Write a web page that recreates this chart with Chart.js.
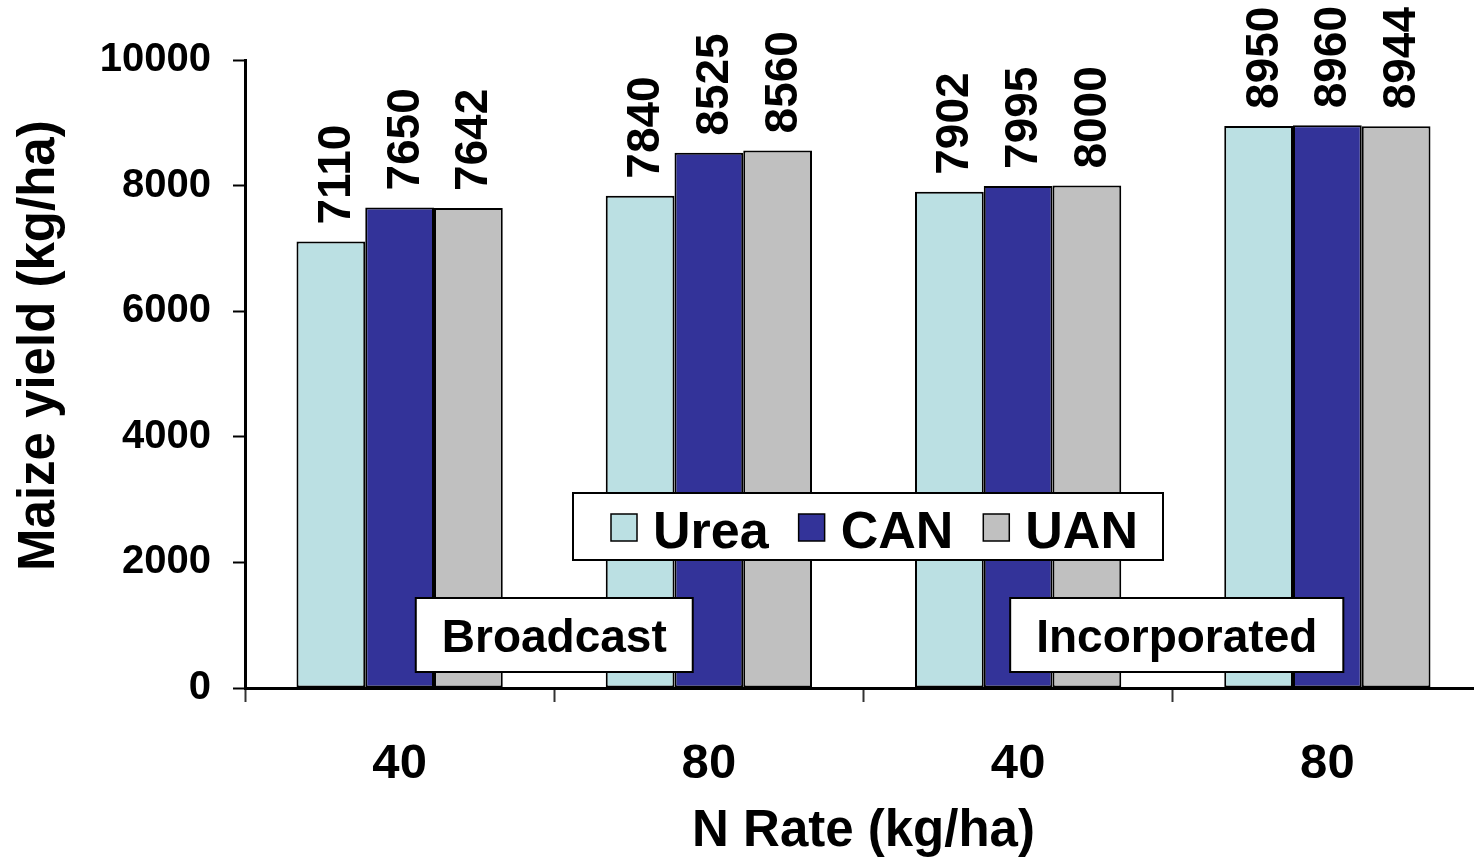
<!DOCTYPE html>
<html lang="en">
<head>
    <meta charset="UTF-8">
    <title>Maize yield</title>
    <script src="https://cdn.jsdelivr.net/npm/chart.js"></script>
    <style>
        body{margin:0; overflow:hidden; background:#fff;}
        #myChart{display:block;}
    </style>
</head>
<body>
    <canvas id="myChart" width="1490" height="860"></canvas>
    <script>
        // data
        const categories = ['40', '80', '40', '80'];
        const seriesNames = ['Urea', 'CAN', 'UAN'];
        const urea = [7110, 7840, 7902, 8950];
        const can = [7650, 8525, 7995, 8960];
        const uan = [7642, 8560, 8000, 8944];
        const yTicks = [0, 2000, 4000, 6000, 8000, 10000];
        const groupLabels = ['Broadcast', 'Incorporated'];

        const FONT = "'Liberation Sans', Arial, sans-serif";
        const colors = ['#BBE0E3', '#333399', '#C0C0C0'];

        // values written vertically above each bar
        const barLabels = {
          id: 'barLabels',
          afterDatasetsDraw(chart) {
            const c = chart.ctx;
            c.save();
            c.font = 'bold 46px ' + FONT;
            c.fillStyle = '#000';
            c.textAlign = 'left';
            c.textBaseline = 'alphabetic';
            chart.data.datasets.forEach((ds, i) => {
              chart.getDatasetMeta(i).data.forEach((el, j) => {
                c.save();
                c.translate(el.x, el.y - 17);
                c.rotate(-Math.PI / 2);
                c.fillText(String(ds.data[j]), 0, 19);
                c.restore();
              });
            });
            c.restore();
          }
        };

        // legend box + Broadcast / Incorporated boxes
        const boxes = {
          id: 'boxes',
          afterDatasetsDraw(chart) {
            const c = chart.ctx;
            const xs = chart.scales.x;
            c.save();
            c.lineWidth = 2;
            c.strokeStyle = '#000';

            // legend
            c.fillStyle = '#fff';
            c.fillRect(573, 493, 590, 67);
            c.strokeRect(573, 493, 590, 67);
            c.font = 'bold 52px ' + FONT;
            c.textBaseline = 'alphabetic';
            c.textAlign = 'left';
            let x = 611;
            chart.data.datasets.forEach(ds => {
              c.fillStyle = ds.backgroundColor;
              c.fillRect(x, 514, 26, 27);
              c.lineWidth = 1.5;
              c.strokeRect(x, 514, 26, 27);
              c.fillStyle = '#000';
              c.fillText(ds.label, x + 42, 548);
              x += 42 + c.measureText(ds.label).width + 30;
            });

            // group boxes, centred on the category gaps
            c.font = 'bold 46px ' + FONT;
            c.textAlign = 'center';
            c.lineWidth = 2;
            groupLabels.forEach((txt, k) => {
              const cx = xs.getPixelForValue(k * 2 + 0.5) + k * 4;
              const w = c.measureText(txt).width + 52;
              c.fillStyle = '#fff';
              c.fillRect(cx - w / 2, 598, w, 74);
              c.strokeRect(cx - w / 2, 598, w, 74);
              c.fillStyle = '#000';
              c.fillText(txt, cx, 652);
            });
            c.restore();
          }
        };

        const ctx = document.getElementById('myChart');
        const myChart = new Chart(ctx, {
          type: 'bar',
          data: {
            labels: categories,
            datasets: [
              {label: seriesNames[0], data: urea, backgroundColor: colors[0]},
              {label: seriesNames[1], data: can, backgroundColor: colors[1]},
              {label: seriesNames[2], data: uan, backgroundColor: colors[2]}
            ]
          },
          options: {
            responsive: false,
            animation: false,
            devicePixelRatio: 1,
            layout: {padding: {top: 60, left: 0, right: 8, bottom: 0}},
            datasets: {
              bar: {
                categoryPercentage: 0.667,
                barPercentage: 1,
                borderColor: '#000',
                borderWidth: 2,
                borderSkipped: false
              }
            },
            plugins: {
              legend: {display: false},
              tooltip: {enabled: false}
            },
            scales: {
              x: {
                afterFit: s => { s.height = 172; },
                grid: {drawOnChartArea: false, tickLength: 14, tickWidth: 2, tickColor: '#333', offset: true},
                border: {color: '#000', width: 3},
                ticks: {color: '#000', padding: 33, font: {family: FONT, size: 49, weight: 'bold'}},
                title: {
                  display: true,
                  text: 'N Rate (kg/ha)',
                  color: '#000',
                  padding: 0,
                  font: {family: FONT, size: 51, weight: 'bold', lineHeight: 1.1}
                }
              },
              y: {
                min: yTicks[0],
                max: yTicks[yTicks.length - 1],
                afterFit: s => { s.width = 245; },
                afterBuildTicks: s => { s.ticks = yTicks.map(v => ({value: v})); },
                grid: {drawOnChartArea: false, tickLength: 12, tickWidth: 2, tickColor: '#000'},
                border: {color: '#000', width: 3},
                ticks: {
                  color: '#000',
                  padding: 22,
                  callback: v => String(v),
                  font: {family: FONT, size: 40, weight: 'bold'}
                },
                title: {
                  display: true,
                  text: '    Maize yield (kg/ha)',
                  color: '#000',
                  padding: {top: 9, bottom: 0},
                  font: {family: FONT, size: 51, weight: 'bold', lineHeight: 1.2}
                }
              }
            }
          },
          plugins: [barLabels, boxes]
        });
    </script>
</body>
</html>
